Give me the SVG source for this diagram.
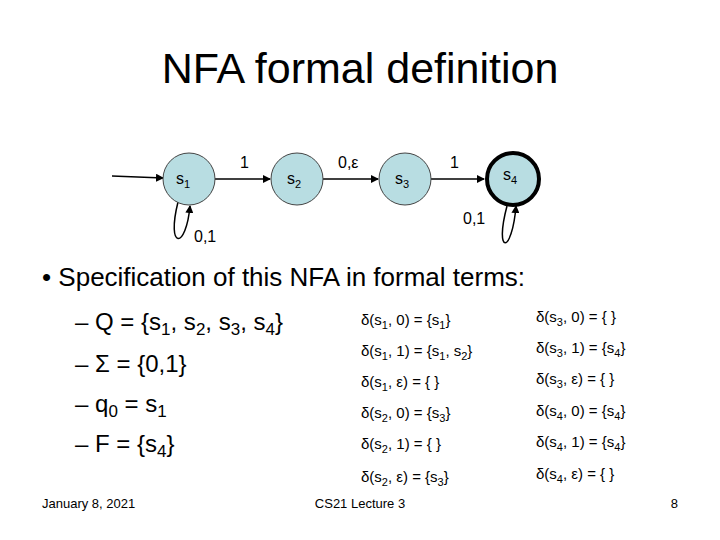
<svg xmlns="http://www.w3.org/2000/svg" width="720" height="540" viewBox="0 0 720 540">
<style>
text{font-family:"Liberation Sans",Arial,sans-serif;fill:#000}
.st{fill:#b8dde2;stroke:#444;stroke-width:1}
.fin{stroke:#000;stroke-width:4}
.e{stroke:#000;stroke-width:1.5;fill:none;marker-end:url(#a)}
.l{font-size:16px}
.d{font-size:15px}
.b{font-size:24px}
</style>
<defs><marker id="a" markerWidth="8" markerHeight="8" refX="7" refY="4" orient="auto" markerUnits="userSpaceOnUse"><path d="M0,0L8,4L0,8z" fill="#000"/></marker></defs>
<rect width="720" height="540" fill="#fff"/>
<text x="360" y="83" font-size="43" text-anchor="middle">NFA formal definition</text>
<g id="connectors">
<path class="e" d="M112,176 L163,178"/>
<path class="e" d="M215,179 L270,179"/>
<path class="e" d="M323,179 L378,179"/>
<path class="e" d="M431,179 L484,179"/>
<path class="e" d="M178,202 C166,250 186,250 190,206"/>
<path class="e" d="M507,206 C494,255 512,255 516,206"/>
<text class="l" x="240" y="168">1</text>
<text class="l" x="338" y="168">0,ε</text>
<text class="l" x="450" y="168">1</text>
<text class="l" x="194" y="242">0,1</text>
<text class="l" x="463" y="224">0,1</text>
</g>
<g id="s1"><circle class="st" cx="189" cy="179" r="26"/><text class="l" x="176" y="184">s<tspan font-size="11" dy="4">1</tspan></text></g>
<g id="s2"><circle class="st" cx="297" cy="179" r="26"/><text class="l" x="287" y="184">s<tspan font-size="11" dy="4">2</tspan></text></g>
<g id="s3"><circle class="st" cx="405" cy="179" r="26"/><text class="l" x="395" y="184">s<tspan font-size="11" dy="4">3</tspan></text></g>
<g id="s4"><circle class="st fin" cx="513" cy="179" r="26"/><text class="l" x="503" y="180">s<tspan font-size="11" dy="4">4</tspan></text></g>
<text x="42" y="286" font-size="26">• Specification of this NFA in formal terms:</text>
<text class="b" x="75" y="330">– Q = {s<tspan font-size="17" dy="5">1</tspan><tspan dy="-5">, s</tspan><tspan font-size="17" dy="5">2</tspan><tspan dy="-5">, s</tspan><tspan font-size="17" dy="5">3</tspan><tspan dy="-5">, s</tspan><tspan font-size="17" dy="5">4</tspan><tspan dy="-5">}</tspan></text>
<text class="b" x="75" y="372">– Σ = {0,1}</text>
<text class="b" x="75" y="412">– q<tspan font-size="17" dy="5">0</tspan><tspan dy="-5"> = s</tspan><tspan font-size="17" dy="5">1</tspan></text>
<text class="b" x="75" y="452">– F = {s<tspan font-size="17" dy="5">4</tspan><tspan dy="-5">}</tspan></text>
<g class="d">
<text class="d" x="361" y="325">δ(s<tspan font-size="11" dy="4">1</tspan><tspan dy="-4">, 0) = {s</tspan><tspan font-size="11" dy="4">1</tspan><tspan dy="-4">}</tspan></text>
<text class="d" x="361" y="356">δ(s<tspan font-size="11" dy="4">1</tspan><tspan dy="-4">, 1) = {s</tspan><tspan font-size="11" dy="4">1</tspan><tspan dy="-4">, s</tspan><tspan font-size="11" dy="4">2</tspan><tspan dy="-4">}</tspan></text>
<text class="d" x="361" y="387">δ(s<tspan font-size="11" dy="4">1</tspan><tspan dy="-4">, ε) = { }</tspan></text>
<text class="d" x="361" y="418">δ(s<tspan font-size="11" dy="4">2</tspan><tspan dy="-4">, 0) = {s</tspan><tspan font-size="11" dy="4">3</tspan><tspan dy="-4">}</tspan></text>
<text class="d" x="361" y="449">δ(s<tspan font-size="11" dy="4">2</tspan><tspan dy="-4">, 1) = { }</tspan></text>
<text class="d" x="361" y="482">δ(s<tspan font-size="11" dy="4">2</tspan><tspan dy="-4">, ε) = {s</tspan><tspan font-size="11" dy="4">3</tspan><tspan dy="-4">}</tspan></text>
<text class="d" x="536" y="322">δ(s<tspan font-size="11" dy="4">3</tspan><tspan dy="-4">, 0) = { }</tspan></text>
<text class="d" x="536" y="353">δ(s<tspan font-size="11" dy="4">3</tspan><tspan dy="-4">, 1) = {s</tspan><tspan font-size="11" dy="4">4</tspan><tspan dy="-4">}</tspan></text>
<text class="d" x="536" y="384">δ(s<tspan font-size="11" dy="4">3</tspan><tspan dy="-4">, ε) = { }</tspan></text>
<text class="d" x="536" y="416">δ(s<tspan font-size="11" dy="4">4</tspan><tspan dy="-4">, 0) = {s</tspan><tspan font-size="11" dy="4">4</tspan><tspan dy="-4">}</tspan></text>
<text class="d" x="536" y="447">δ(s<tspan font-size="11" dy="4">4</tspan><tspan dy="-4">, 1) = {s</tspan><tspan font-size="11" dy="4">4</tspan><tspan dy="-4">}</tspan></text>
<text class="d" x="536" y="479">δ(s<tspan font-size="11" dy="4">4</tspan><tspan dy="-4">, ε) = { }</tspan></text>
</g>
<text x="42" y="508" font-size="13">January 8, 2021</text>
<text x="360" y="508" font-size="13" text-anchor="middle">CS21 Lecture 3</text>
<text x="678" y="508" font-size="13" text-anchor="end">8</text>
</svg>
